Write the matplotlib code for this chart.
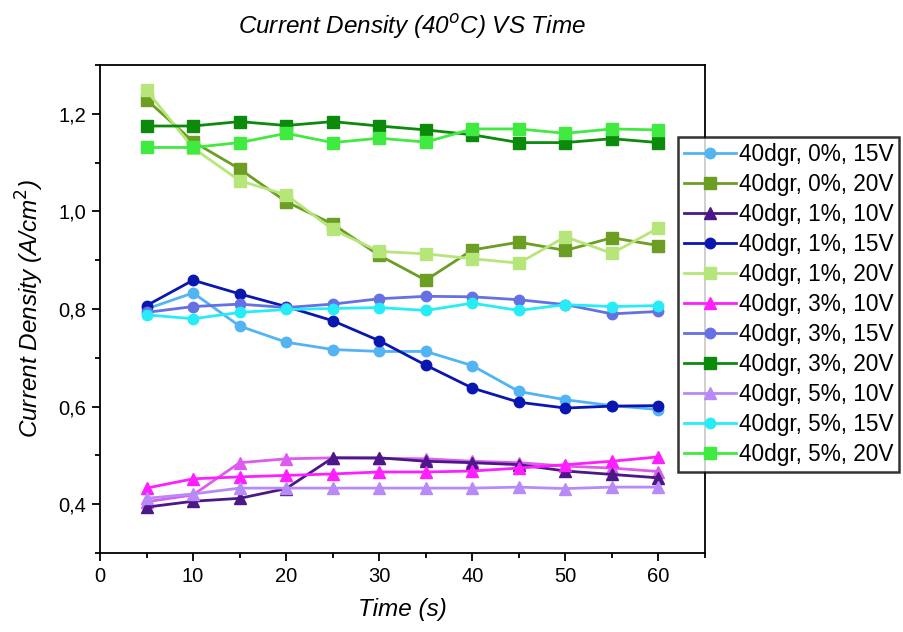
import numpy as np
import matplotlib
matplotlib.use('Agg')
import matplotlib.pyplot as plt
from matplotlib.ticker import MultipleLocator, FuncFormatter

plt.rcParams['font.family'] = ['Liberation Sans', 'DejaVu Sans']

#%% Data
time_s = [5, 10, 15, 20, 25, 30, 35, 40, 45, 50, 55, 60]

j_0pct_15V = [0.800, 0.833, 0.765, 0.732, 0.717, 0.713, 0.713, 0.684, 0.631, 0.614, 0.602, 0.594]
j_0pct_20V = [1.229, 1.143, 1.087, 1.020, 0.974, 0.910, 0.859, 0.921, 0.937, 0.920, 0.946, 0.930]
j_1pct_10V = [0.394, 0.406, 0.412, 0.432, 0.495, 0.495, 0.488, 0.485, 0.481, 0.468, 0.461, 0.454]
j_1pct_15V = [0.807, 0.859, 0.831, 0.805, 0.776, 0.735, 0.685, 0.638, 0.609, 0.597, 0.601, 0.602]
j_1pct_20V = [1.248, 1.130, 1.063, 1.034, 0.963, 0.918, 0.913, 0.903, 0.894, 0.948, 0.914, 0.966]
j_3pct_10V = [0.433, 0.452, 0.456, 0.459, 0.462, 0.466, 0.466, 0.468, 0.474, 0.481, 0.488, 0.497]
j_3pct_15V = [0.793, 0.805, 0.810, 0.803, 0.810, 0.821, 0.826, 0.825, 0.819, 0.809, 0.790, 0.795]
j_3pct_20V = [1.175, 1.175, 1.184, 1.176, 1.184, 1.175, 1.167, 1.157, 1.141, 1.141, 1.149, 1.141]
j_5pct_10V = [0.412, 0.421, 0.433, 0.433, 0.433, 0.433, 0.433, 0.433, 0.435, 0.432, 0.435, 0.435]
j_5pct_15V = [0.788, 0.780, 0.793, 0.799, 0.801, 0.803, 0.797, 0.812, 0.797, 0.809, 0.805, 0.807]
j_5pct_20V = [1.131, 1.131, 1.141, 1.160, 1.141, 1.150, 1.142, 1.169, 1.169, 1.160, 1.169, 1.167]
# extra triangle curve drawn in the plot but not listed in the legend
j_extra_10V = [0.405, 0.419, 0.485, 0.493, 0.495, 0.494, 0.493, 0.488, 0.485, 0.478, 0.474, 0.467]

series = [
    ('40dgr, 0%, 15V', j_0pct_15V, '#52b4f2', 'o'),
    ('40dgr, 0%, 20V', j_0pct_20V, '#6b9e22', 's'),
    ('40dgr, 1%, 10V', j_1pct_10V, '#4c1888', '^'),
    ('40dgr, 1%, 15V', j_1pct_15V, '#0a16b0', 'o'),
    ('40dgr, 1%, 20V', j_1pct_20V, '#b6e67a', 's'),
    ('40dgr, 3%, 10V', j_3pct_10V, '#ff1eff', '^'),
    ('40dgr, 3%, 15V', j_3pct_15V, '#6470e4', 'o'),
    ('40dgr, 3%, 20V', j_3pct_20V, '#0c8a0c', 's'),
    ('40dgr, 5%, 10V', j_5pct_10V, '#b88af8', '^'),
    ('40dgr, 5%, 15V', j_5pct_15V, '#26ecf6', 'o'),
    ('40dgr, 5%, 20V', j_5pct_20V, '#40ea40', 's'),
]

#%% Plot
fig = plt.figure(figsize=(9.04, 6.32), dpi=100)
ax = fig.add_axes([100 / 904, 1 - 553 / 632, 605 / 904, 488 / 632])

ax.plot(time_s, j_extra_10V, color='#dc5cf0', marker='^', markersize=8, lw=2,
        label='_nolegend_')
for label, vals, col, mk in series:
    ax.plot(time_s, vals, color=col, marker=mk, markersize=8 if mk != 'o' else 7.5,
            lw=2, label=label)

ax.set_xlim(0, 65)
ax.set_ylim(0.3, 1.3)
ax.xaxis.set_major_locator(MultipleLocator(10))
ax.xaxis.set_minor_locator(MultipleLocator(5))
ax.yaxis.set_major_locator(MultipleLocator(0.2))
ax.yaxis.set_minor_locator(MultipleLocator(0.1))
ax.yaxis.set_major_formatter(FuncFormatter(lambda v, p: f"{v:.1f}".replace('.', ',')))
ax.tick_params(which='both', direction='out', top=False, right=False, width=1.3)
ax.tick_params(which='major', length=6, labelsize=14.5, pad=4)
ax.tick_params(which='minor', length=3.5)
for sp in ax.spines.values():
    sp.set_linewidth(1.3)

ax.set_xlabel('Time (s)', fontsize=17.5, style='italic', labelpad=9)
ax.set_ylabel('Current Density (A/cm$^2$)', fontsize=17.5, style='italic', labelpad=9)
fig.text(0.456, 1 - 27 / 632, 'Current Density (40$^o$C) VS Time', fontsize=17.5,
         style='italic', ha='center', va='center')

leg = ax.legend(loc='upper left', bbox_to_anchor=(678 / 904, 1 - 137 / 632),
                bbox_transform=fig.transFigure, fontsize=16.3, frameon=True,
                fancybox=False, edgecolor='black', borderpad=0.25, labelspacing=0.31,
                handlelength=2.3, handletextpad=0.15, borderaxespad=0)
leg.get_frame().set_linewidth(1.8)

fig.savefig('out.png', dpi=100)
